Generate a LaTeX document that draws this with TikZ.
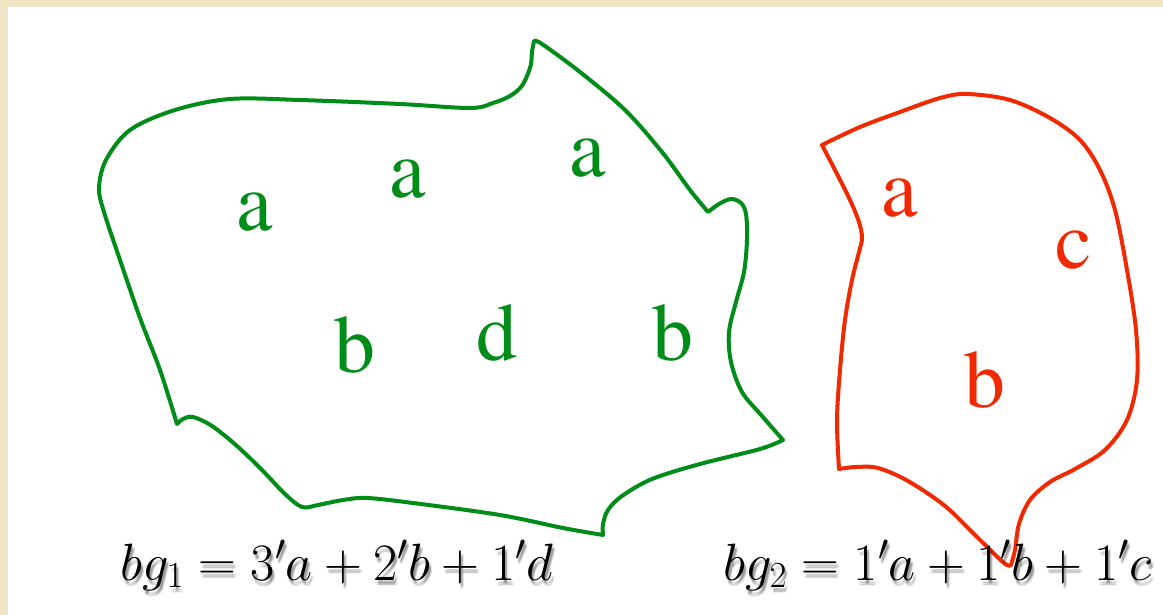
\documentclass[tikz,border=0pt]{standalone}
\usepackage{fix-cm}
\usepackage{fontspec}
\newfontfamily\letterfont{texgyretermes-regular.otf}
\definecolor{blobgreen}{RGB}{0,140,24}
\definecolor{blobred}{RGB}{240,42,0}
\definecolor{parch}{RGB}{238,229,198}
\tikzset{
  greenline/.style={draw=blobgreen, line width=4pt, line join=round, line cap=round},
  redline/.style={draw=blobred, line width=4pt, line join=round, line cap=round},
  gletter/.style={anchor=base, inner sep=0pt, text=blobgreen, font=\letterfont\fontsize{82}{90}\selectfont},
  rletter/.style={anchor=base, inner sep=0pt, text=blobred, font=\letterfont\fontsize{82}{90}\selectfont},
  formula/.style={anchor=base west, inner sep=0pt, font=\fontsize{52.5}{60}\selectfont},
  shadowtext/.style={formula, text=black, opacity=0.06}
}
\begin{document}
\begin{tikzpicture}[x=1pt,y=-1pt]
\useasboundingbox (0,0) rectangle (1163,615);
\fill[parch] (0,0) rectangle (1163,615);
\fill[white] (8,7) rectangle (1163,615);

% green region
\path[greenline]
  plot[smooth, tension=0.55] coordinates {(177,424) (160,370) (140,318) (120,260) (104,212) (99,188) (106,160) (130,130) (175,110) (230,99) (300,100) (400,104) (470,108) (493,103) (510,96) (521,87) (527,76) (531,64) (532,52) (534,41)}
  -- plot[smooth, tension=0.55] coordinates {(534,41) (542,44) (580,72) (625,110) (662,152) (690,190) (708,212)}
  -- plot[smooth, tension=0.55] coordinates {(708,212) (719,204) (731,199) (741,203) (746,214) (747,240) (744,272) (736,302) (729,332) (731,362) (742,392) (762,416) (783,440)}
  -- plot[smooth, tension=0.55] coordinates {(783,440) (760,449) (700,464) (652,479) (622,496) (608,510) (603,524) (603,535)}
  -- plot[smooth, tension=0.55] coordinates {(603,535) (563,528) (500,515) (413,503) (367,498) (343,500) (318,505) (302,507) (285,494) (262,470) (237,446) (212,426) (193,417) (183,419) (177,424)}
  -- cycle;

% red region
\path[redline]
  plot[smooth, tension=0.55] coordinates {(822,145) (860,127) (900,112) (940,98) (967,94) (1010,100) (1050,118) (1080,140) (1100,170) (1115,210) (1127,270) (1136,330) (1137,380) (1127,420) (1105,450) (1075,469) (1050,482) (1030,500) (1019,524) (1015,550) (1011,565)}
  -- plot[smooth, tension=0.55] coordinates {(1011,565) (1004,563) (975,535) (945,506) (908,481) (878,468) (856,467) (839,469)}
  -- plot[smooth, tension=0.55] coordinates {(839,469) (837,420) (840,370) (845,320) (852,280) (859,252) (862,238) (859,222) (850,200) (836,172) (822,145)}
  -- cycle;

% letters
\node[gletter] (ga1) at (255,230) {a};
\node[gletter] (ga2) at (408,197) {a};
\node[gletter] (ga3) at (588,177) {a};
\node[gletter] (gb1) at (355,372) {b};
\node[gletter] (gd)  at (497,360) {d};
\node[gletter] (gb2) at (673,360) {b};
\node[rletter] (ra) at (900,217) {a};
\node[rletter] (rc) at (1074,269) {c};
\node[rletter] (rb) at (985,407) {b};

% formulas with soft shadow
\foreach \dx/\dy in {1/3,3/3,2/4,2/5,1/5,3/5,2/6,2/3}{
  \node[shadowtext] at (120+\dx,580+\dy) {$bg_1 = 3'a + 2'b + 1'd$};
  \node[shadowtext] at (723+\dx,580+\dy) {$bg_2 = 1'a + 1'b + 1'c$};
}
\node[formula] (f1) at (120,580) {$bg_1 = 3'a + 2'b + 1'd$};
\node[formula] (f2) at (723,580) {$bg_2 = 1'a + 1'b + 1'c$};
\end{tikzpicture}
\end{document}
